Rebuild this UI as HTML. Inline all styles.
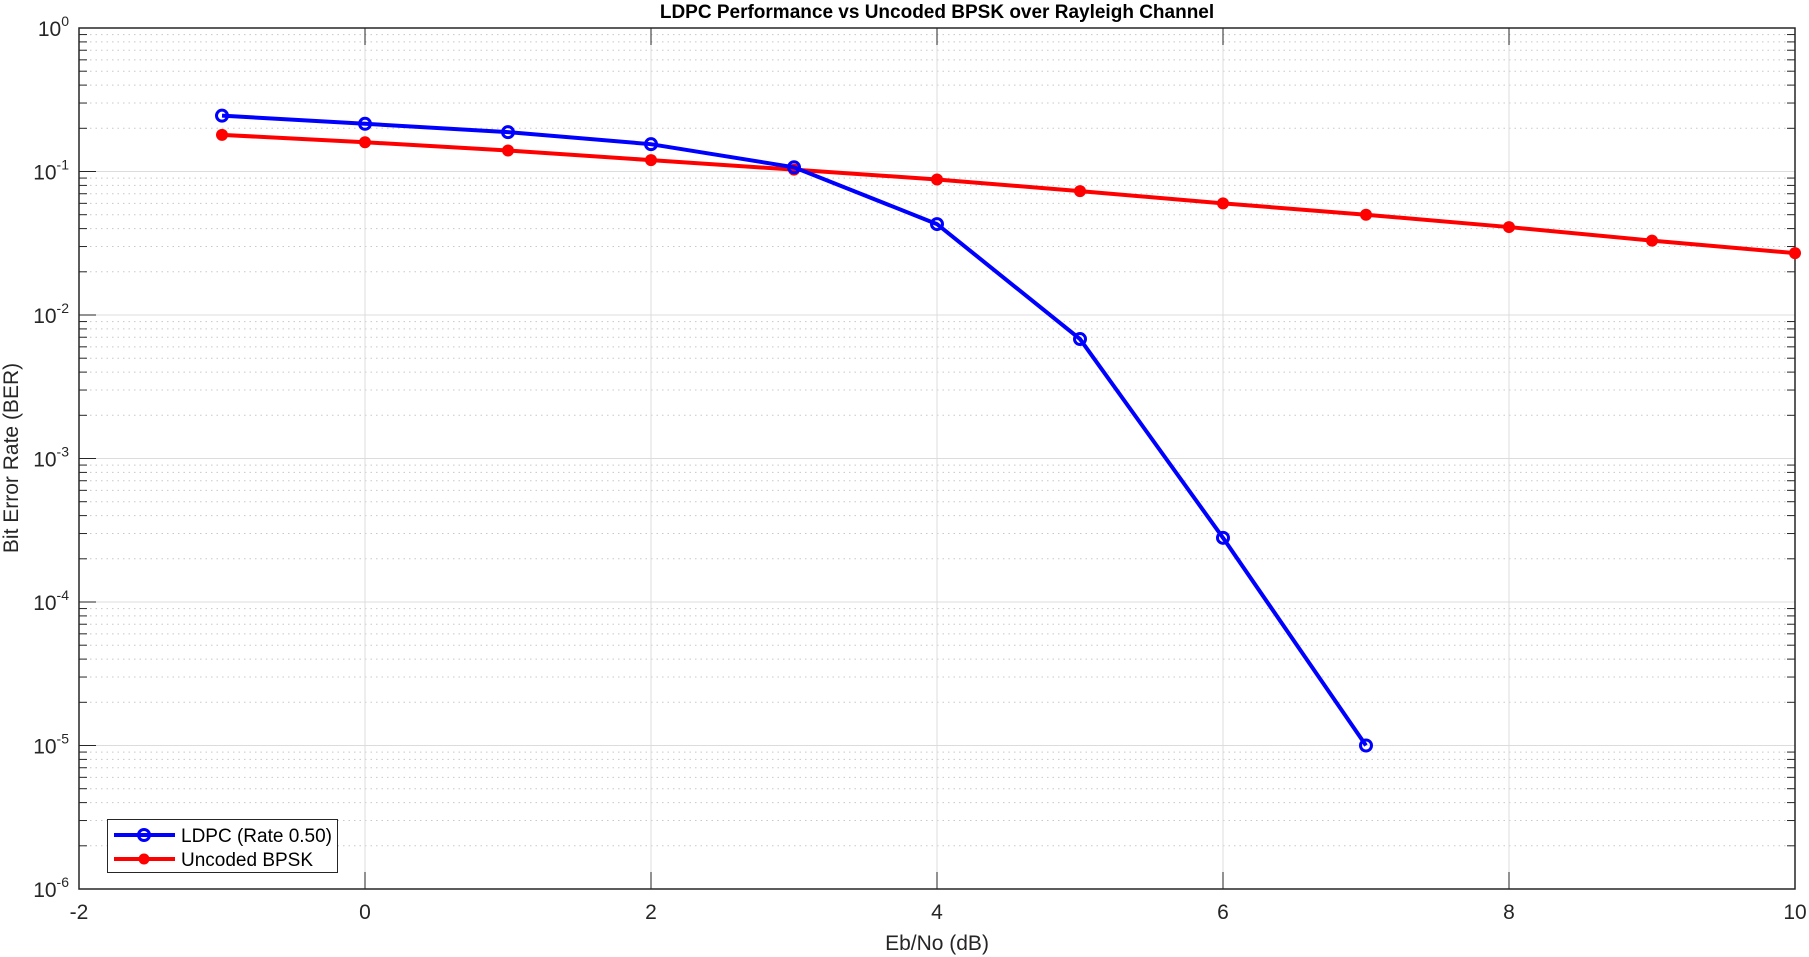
<!DOCTYPE html>
<html><head><meta charset="utf-8"><style>
body{margin:0;background:#fff;}
svg{display:block;font-family:"Liberation Sans",sans-serif;}
</style></head><body>
<svg id="chart" width="1809" height="957" xmlns="http://www.w3.org/2000/svg">
<rect width="1809" height="957" fill="#fff"/>
<g id="grid"></g><g id="axes"></g><g id="series"></g>
<text x="937" y="18" text-anchor="middle" font-size="19" font-weight="bold" fill="#000">LDPC Performance vs Uncoded BPSK over Rayleigh Channel</text>
<text x="937" y="950" text-anchor="middle" font-size="21" fill="#262626">Eb/No (dB)</text>
<text transform="translate(18,458) rotate(-90)" text-anchor="middle" font-size="21" fill="#262626">Bit Error Rate (BER)</text>
<g>
<rect x="107.5" y="819.5" width="230" height="53" fill="#fff" stroke="#262626" stroke-width="1"/>
<g>
<line x1="114" y1="835" x2="175" y2="835" stroke="#0000ff" stroke-width="4"/>
<circle cx="144" cy="835" r="5.5" fill="none" stroke="#0000ff" stroke-width="3"/>
<text x="181" y="842" font-size="19" fill="#000">LDPC (Rate 0.50)</text></g>
<g>
<line x1="114" y1="859" x2="175" y2="859" stroke="#ff0000" stroke-width="4"/>
<circle cx="144" cy="859" r="5.5" fill="#ff0000"/>
<text x="181" y="866" font-size="19" fill="#000">Uncoded BPSK</text></g>
</g>
</svg>
<script>
const xTicks=[-2,0,2,4,6,8,10];
const yExps=[0,-1,-2,-3,-4,-5,-6];
const ebno=[-1,0,1,2,3,4,5,6,7];
const ldpcBer=[0.245,0.215,0.188,0.155,0.107,0.043,0.0068,0.00028,0.00001];
const ebnoUncoded=[-1,0,1,2,3,4,5,6,7,8,9,10];
const uncodedBer=[0.18,0.16,0.14,0.12,0.103,0.088,0.073,0.060,0.050,0.041,0.033,0.027];
const L=79,R=1795,T=28,B=889;
const X=v=>L+(v+2)/12*(R-L);
const Y=v=>T+(-Math.log10(v))/6*(B-T);
const NS="http://www.w3.org/2000/svg";
function mk(p,t,a){const e=document.createElementNS(NS,t);for(const k in a)e.setAttribute(k,a[k]);p.appendChild(e);return e;}
const grid=document.getElementById('grid'),axes=document.getElementById('axes'),ser=document.getElementById('series');
for(let e=-6;e<0;e++){for(let m=2;m<=9;m++){const y=Y(m*Math.pow(10,e));
const g=mk(grid,'line',{x1:L,x2:R,y1:y,y2:y,stroke:'#c8c8c8','stroke-width':1,'stroke-dasharray':'1.5,4'});


const t1=mk(axes,'line',{x1:L,x2:L+8,y1:y,y2:y,stroke:'#262626'});


const t2=mk(axes,'line',{x1:R-8,x2:R,y1:y,y2:y,stroke:'#262626'});

}}
yExps.forEach(e=>{const y=Y(Math.pow(10,e));
const g=mk(grid,'line',{x1:L,x2:R,y1:y,y2:y,stroke:'#dcdcdc','stroke-width':1});


const t=mk(axes,'line',{x1:L,x2:L+17,y1:y,y2:y,stroke:'#262626'});


const tx=mk(axes,'text',{x:L-10,y:y+8,'text-anchor':'end','font-size':21,fill:'#262626'});


tx.textContent='10';const s=mk(tx,'tspan',{dy:-10,'font-size':14});s.textContent=String(e);});
xTicks.forEach(v=>{const x=X(v);
const g=mk(grid,'line',{x1:x,x2:x,y1:T,y2:B,stroke:'#dcdcdc','stroke-width':1});


const t=mk(axes,'line',{x1:x,x2:x,y1:B,y2:B-17,stroke:'#262626'});


const t2=mk(axes,'line',{x1:x,x2:x,y1:T,y2:T+17,stroke:'#262626'});


const tx=mk(axes,'text',{x:x,y:B+30,'text-anchor':'middle','font-size':21,fill:'#262626'});


tx.textContent=String(v);});
const box=mk(axes,'rect',{x:L,y:T,width:R-L,height:B-T,fill:'none',stroke:'#262626','stroke-width':1.5});


const lp=mk(ser,'polyline',{points:ebnoUncoded.map((v,i)=>X(v)+','+Y(uncodedBer[i])).join(' '),fill:'none',stroke:'#ff0000','stroke-width':4});


ebnoUncoded.forEach((v,i)=>{const c=mk(ser,'circle',{cx:X(v),cy:Y(uncodedBer[i]),r:6,fill:'#ff0000'});

});
const lb=mk(ser,'polyline',{points:ebno.map((v,i)=>X(v)+','+Y(ldpcBer[i])).join(' '),fill:'none',stroke:'#0000ff','stroke-width':4});


ebno.forEach((v,i)=>{const c=mk(ser,'circle',{cx:X(v),cy:Y(ldpcBer[i]),r:5.5,fill:'none',stroke:'#0000ff','stroke-width':3});

});
</script>
</body></html>
